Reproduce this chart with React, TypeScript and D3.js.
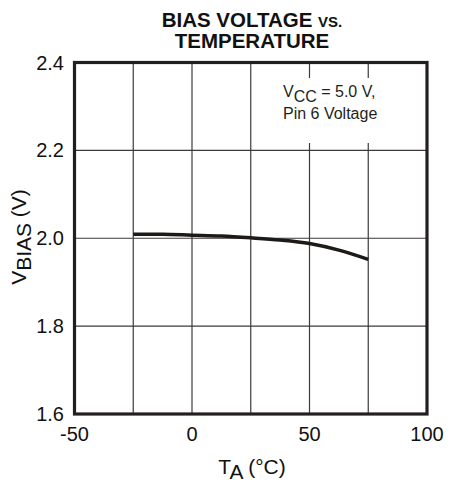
import React from 'react';
import * as d3 from 'd3';

// readings: T_A (°C) -> V_BIAS (V)
const temps = [-25, -12.5, 0, 12.5, 25, 37.5, 50, 62.5, 75];
const vbias = [2.009, 2.009, 2.007, 2.005, 2.001, 1.996, 1.988, 1.973, 1.952];

const xTicks = [-50, 0, 50, 100];
const xGrid = [-25, 0, 25, 50, 75];
const yTicks = [1.6, 1.8, 2.0, 2.2, 2.4];
const yGrid = [1.8, 2.0, 2.2];

const W = 456;
const H = 483;
const font = '"Liberation Sans", Arial, Helvetica, sans-serif';
const ink = '#231f20';

export default function App() {
  const x = d3.scaleLinear().domain([-50, 100]).range([74.5, 427]);
  const y = d3.scaleLinear().domain([1.6, 2.4]).range([414, 62.5]);

  const pts: [number, number][] = temps.map((t, i) => [t, vbias[i]]);
  const line = d3.line<[number, number]>()
    .x(d => x(d[0]))
    .y(d => y(d[1]))
    .curve(d3.curveMonotoneX);

  const [x0, x1] = x.range();
  const [y0, y1] = y.range();

  return (
    <svg width={W} height={H} style={{ position: 'absolute', left: 0, top: 0, background: '#fff' }}
      fontFamily={font}>
      {/* title */}
      <text x={252} y={27} textAnchor="middle" fontWeight="bold" fontSize={20.5} fill="#111">
        BIAS VOLTAGE <tspan fontSize={15}>VS.</tspan>
      </text>
      <text x={252} y={48} textAnchor="middle" fontWeight="bold" fontSize={20.5} fill="#111">
        TEMPERATURE
      </text>

      {/* grid */}
      {xGrid.map(v => (
        <line key={'gx' + v} x1={x(v)} x2={x(v)} y1={y1} y2={y0} stroke="#3d3a3a" strokeWidth={1.2} />
      ))}
      {yGrid.map(v => (
        <line key={'gy' + v} x1={x0} x2={x1} y1={y(v)} y2={y(v)} stroke="#3d3a3a" strokeWidth={1.2} />
      ))}

      {/* annotation box */}
      <rect x={280} y={78} width={105} height={65} fill="#fff" />
      <text x={283} y={96.5} fontSize={16} fill="#231f20">
        V<tspan dy={5}>CC</tspan><tspan dy={-5}> = 5.0 V,</tspan>
      </text>
      <text x={283} y={119} fontSize={16} fill="#231f20">Pin 6 Voltage</text>

      {/* curve */}
      <path d={line(pts) || ''} fill="none" stroke="#1d1916" strokeWidth={3.5} strokeLinecap="butt" />

      {/* frame */}
      <rect x={x0} y={y1} width={x1 - x0} height={y0 - y1} fill="none" stroke={ink} strokeWidth={3.2} />

      {/* tick labels */}
      {yTicks.map(v => (
        <text key={'ty' + v} x={64} y={y(v) + 7} textAnchor="end" fontSize={20} fill="#111">
          {d3.format('.1f')(v)}
        </text>
      ))}
      {xTicks.map(v => (
        <text key={'tx' + v} x={x(v)} y={441} textAnchor="middle" fontSize={20} fill="#111">
          {v}
        </text>
      ))}

      {/* axis titles */}
      <text x={252} y={474} textAnchor="middle" fontSize={21} fill="#111">
        T<tspan dy={5}>A</tspan><tspan dy={-5}> (°C)</tspan>
      </text>
      <text transform="translate(26,237) rotate(-90)" textAnchor="middle" fontSize={21} fill="#111">
        V<tspan dy={5}>BIAS</tspan><tspan dy={-5}> (V)</tspan>
      </text>
    </svg>
  );
}
